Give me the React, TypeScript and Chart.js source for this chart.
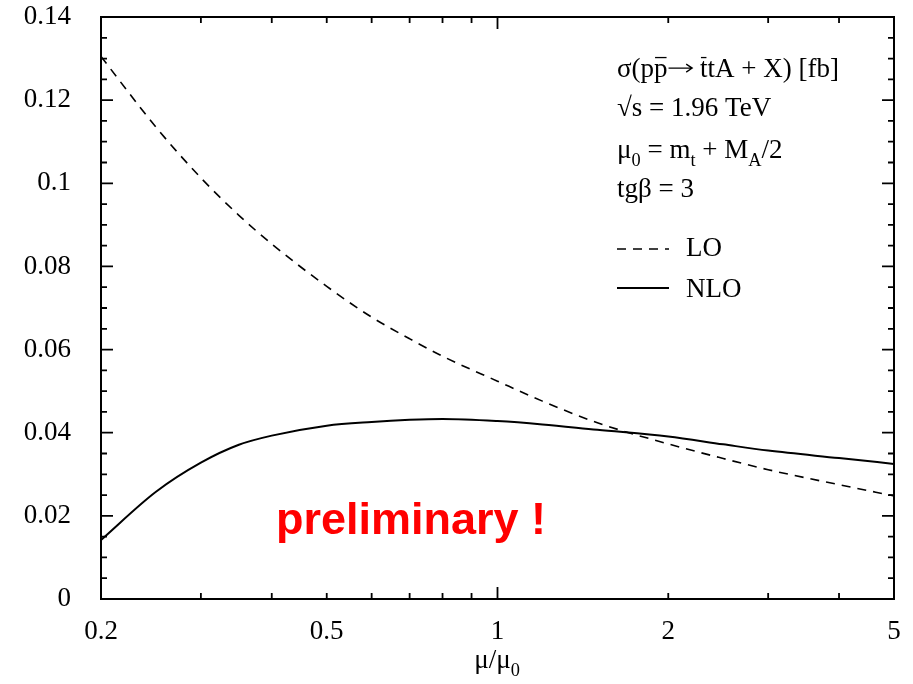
import React, { useEffect, useRef } from "react";
import { Chart, registerables } from "chart.js";

Chart.register(...registerables);

// ---- data ----
const muValues = [0.2, 0.25, 0.3, 0.35, 0.4, 0.5, 0.6, 0.7, 0.8, 1, 1.2, 1.5, 2, 2.5, 3, 4, 5];
const loValues = [0.1305, 0.1135, 0.1013, 0.0923, 0.0854, 0.0752, 0.0678, 0.0626, 0.0584, 0.0524, 0.0476, 0.0424, 0.0373, 0.0338, 0.0311, 0.0275, 0.0248];
const nloValues = [0.0142, 0.0258, 0.0328, 0.0371, 0.0393, 0.0417, 0.0426, 0.0431, 0.0433, 0.0428, 0.042, 0.0407, 0.0391, 0.0372, 0.0357, 0.0339, 0.0325];

const xTickLabels = [0.2, 0.5, 1, 2, 5];
const xMajorTicks = [1];
const xMinorTicks = [0.3, 0.4, 0.5, 0.6, 0.7, 0.8, 0.9, 2, 3, 4];
const yMin = 0;
const yMax = 0.14;
const yMajorStep = 0.02;
const yMinorStep = 0.005;

const seriesNames = ["LO", "NLO"];
const xTitle = [{ t: "μ/μ" }, { t: "0", sub: true }];
const annotationLines = [
  [{ t: "σ(p" }, { t: "p", bar: true }, { t: "→", arrow: true }, { t: " " }, { t: "t", bar: true }, { t: "tA + X) [fb]" }],
  [{ t: "√s = 1.96 TeV" }],
  [{ t: "μ" }, { t: "0", sub: true }, { t: " = m" }, { t: "t", sub: true }, { t: " + M" }, { t: "A", sub: true }, { t: "/2" }],
  [{ t: "tgβ = 3" }],
];
const watermark = "preliminary !";

const SERIF = '"Liberation Serif", "Times New Roman", serif';
const FS = 27;

type Seg = { t: string; sub?: boolean; bar?: boolean; arrow?: boolean };

function segWidth(ctx: CanvasRenderingContext2D, s: Seg, size: number) {
  if (s.arrow) return size * 0.95;
  ctx.font = `${s.sub ? size * 0.68 : size}px ${SERIF}`;
  return ctx.measureText(s.t).width;
}

function drawRich(ctx: CanvasRenderingContext2D, x: number, y: number, segs: Seg[], size: number, align: "left" | "center" = "left") {
  let total = 0;
  for (const s of segs) total += segWidth(ctx, s, size);
  let cx = align === "center" ? x - total / 2 : x;
  ctx.textAlign = "left";
  ctx.textBaseline = "alphabetic";
  for (const s of segs) {
    const w = segWidth(ctx, s, size);
    if (s.arrow) {
      const ay = y - size * 0.33;
      ctx.lineWidth = 1.3;
      ctx.beginPath();
      ctx.moveTo(cx + 1, ay);
      ctx.lineTo(cx + w - 1, ay);
      ctx.moveTo(cx + w - 7, ay - 4);
      ctx.lineTo(cx + w - 1, ay);
      ctx.lineTo(cx + w - 7, ay + 4);
      ctx.stroke();
    } else {
      const fs = s.sub ? size * 0.68 : size;
      ctx.font = `${fs}px ${SERIF}`;
      const dy = s.sub ? size * 0.3 : 0;
      ctx.fillText(s.t, cx, y + dy);
      if (s.bar) {
        ctx.beginPath();
        ctx.lineWidth = 1.3;
        ctx.moveTo(cx + 1, y - size * 0.72);
        ctx.lineTo(cx + w - 1, y - size * 0.72);
        ctx.stroke();
      }
    }
    cx += w;
  }
}

const framePlugin = {
  id: "frame",
  afterDraw(chart: any) {
    const { ctx, chartArea: a, scales } = chart;
    const xs = scales.x;
    const ys = scales.y;
    ctx.save();
    ctx.strokeStyle = "#000";
    ctx.fillStyle = "#000";
    // frame
    ctx.lineWidth = 2;
    ctx.strokeRect(a.left, a.top, a.right - a.left, a.bottom - a.top);
    // y ticks
    ctx.lineWidth = 1.8;
    const nSteps = Math.round((yMax - yMin) / yMinorStep);
    for (let i = 1; i < nSteps; i++) {
      const v = yMin + i * yMinorStep;
      const major = Math.abs(v / yMajorStep - Math.round(v / yMajorStep)) < 1e-6;
      const len = major ? 12 : 6;
      const py = ys.getPixelForValue(v);
      ctx.beginPath();
      ctx.moveTo(a.left, py);
      ctx.lineTo(a.left + len, py);
      ctx.moveTo(a.right, py);
      ctx.lineTo(a.right - len, py);
      ctx.stroke();
    }
    // x ticks
    const xt = [...xMinorTicks.map((v) => [v, 6]), ...xMajorTicks.map((v) => [v, 12])];
    for (const [v, len] of xt) {
      const px = xs.getPixelForValue(v);
      ctx.beginPath();
      ctx.moveTo(px, a.bottom);
      ctx.lineTo(px, a.bottom - len);
      ctx.moveTo(px, a.top);
      ctx.lineTo(px, a.top + len);
      ctx.stroke();
    }
    // annotation
    const tx = 617;
    const baselines = [77, 116, 158, 197];
    annotationLines.forEach((segs, i) => drawRich(ctx, tx, baselines[i], segs as Seg[], FS));
    // legend
    ctx.lineWidth = 1.5;
    ctx.setLineDash([9, 7]);
    ctx.beginPath();
    ctx.moveTo(tx, 249);
    ctx.lineTo(tx + 52, 249);
    ctx.stroke();
    ctx.setLineDash([]);
    ctx.lineWidth = 2;
    ctx.beginPath();
    ctx.moveTo(tx, 288);
    ctx.lineTo(tx + 52, 288);
    ctx.stroke();
    ctx.font = `${FS}px ${SERIF}`;
    ctx.textBaseline = "alphabetic";
    ctx.fillText(seriesNames[0], tx + 69, 256);
    ctx.fillText(seriesNames[1], tx + 69, 297);
    // x title
    drawRich(ctx, 497, 668, xTitle as Seg[], FS, "center");
    // watermark
    ctx.fillStyle = "#ff0000";
    ctx.font = 'bold 45px "Liberation Sans", Arial, sans-serif';
    ctx.fillText(watermark, 276, 534);
    ctx.restore();
  },
};

export default function App() {
  const ref = useRef<HTMLCanvasElement | null>(null);
  useEffect(() => {
    if (!ref.current) return;
    const chart = new Chart(ref.current, {
      type: "line",
      data: {
        datasets: [
          {
            label: seriesNames[0],
            data: muValues.map((m, i) => ({ x: m, y: loValues[i] })),
            borderColor: "#000",
            borderWidth: 1.6,
            borderDash: [9, 7],
            pointRadius: 0,
            cubicInterpolationMode: "monotone",
            fill: false,
          },
          {
            label: seriesNames[1],
            data: muValues.map((m, i) => ({ x: m, y: nloValues[i] })),
            borderColor: "#000",
            borderWidth: 2,
            pointRadius: 0,
            cubicInterpolationMode: "monotone",
            fill: false,
          },
        ],
      },
      options: {
        animation: false,
        responsive: false,
        layout: { padding: { left: 0, top: 17, right: 19, bottom: 0 } },
        plugins: { legend: { display: false }, tooltip: { enabled: false } },
        scales: {
          x: {
            type: "logarithmic",
            min: 0.2,
            max: 5,
            afterBuildTicks: (s: any) => {
              s.ticks = xTickLabels.map((v) => ({ value: v }));
            },
            afterFit: (s: any) => {
              s.height = 85;
              s.paddingLeft = 0;
              s.paddingRight = 0;
              s.paddingTop = 0;
              s.paddingBottom = 0;
            },
            ticks: {
              callback: (v: any) => String(v),
              font: { family: SERIF, size: FS },
              color: "#000",
              padding: 17,
              maxRotation: 0,
              autoSkip: false,
            },
            grid: { display: false, drawTicks: false },
            border: { display: false },
          },
          y: {
            type: "linear",
            min: yMin,
            max: yMax,
            afterFit: (s: any) => {
              s.width = 101;
              s.paddingTop = 0;
              s.paddingBottom = 0;
              s.paddingLeft = 0;
              s.paddingRight = 0;
            },
            ticks: {
              stepSize: yMajorStep,
              callback: (v: any) => Number(Number(v).toFixed(2)).toString(),
              font: { family: SERIF, size: FS },
              color: "#000",
              padding: 30,
            },
            grid: { display: false, drawTicks: false },
            border: { display: false },
          },
        },
      },
      plugins: [framePlugin],
    } as any);
    return () => chart.destroy();
  }, []);
  return (
    <div style={{ position: "absolute", left: 0, top: 0, width: 913, height: 684, background: "#fff" }}>
      <canvas ref={ref} width={913} height={684} />
    </div>
  );
}
